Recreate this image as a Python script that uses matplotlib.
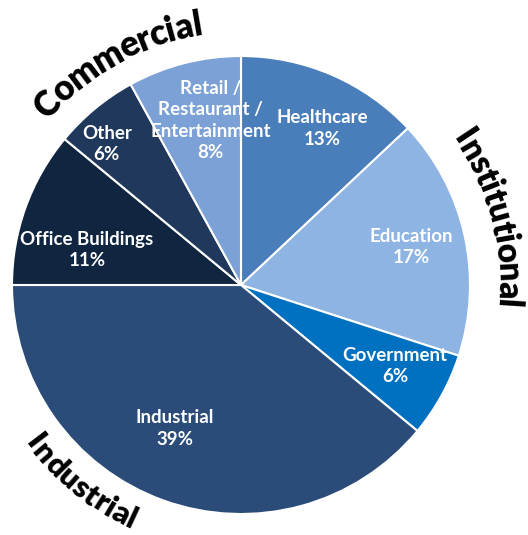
import numpy as np
import matplotlib
matplotlib.use("Agg")
import matplotlib.pyplot as plt
from matplotlib.font_manager import FontProperties

# slice data, clockwise from 12 o'clock
sectors = ["Healthcare", "Education", "Government", "Industrial",
           "Office Buildings", "Other", "Retail /\nRestaurant /\nEntertainment"]
shares = [13, 17, 6, 39, 11, 6, 8]
colors = ["#4a7ebb", "#8db4e2", "#0070c0", "#2b4c78",
          "#10253f", "#1f385c", "#7ca1d6"]
# label placement: fraction of radius and angle nudge (deg)
label_radius = [0.77, 0.76, 0.76, 0.69, 0.69, 0.85, 0.73]
label_nudge = [-4, 0, 1, -5, 7, 4, -4]

# group titles written around the pie
groups = ["Commercial", "Institutional", "Industrial"]
group_angle = [119, 15, 231]      # centre angle of each title (deg)

W, H = 528, 535
cx, cy, R = 241, H - 285, 229

fig = plt.figure(figsize=(W / 100, H / 100), dpi=100)
ax = fig.add_axes([0, 0, 1, 1])
wedges, _ = ax.pie(shares, colors=colors, startangle=90, counterclock=False,
                   center=(cx, cy), radius=R,
                   wedgeprops=dict(edgecolor="white", linewidth=1.5))
ax.set_xlim(0, W)
ax.set_ylim(0, H)
ax.set_aspect("equal")
ax.axis("off")

lab_font = dict(family="Lato", weight="bold", size=13.5, color="white")
for w, name, pct, rf, nd in zip(wedges, sectors, shares, label_radius, label_nudge):
    mid = np.deg2rad((w.theta1 + w.theta2) / 2 + nd)
    x = cx + rf * R * np.cos(mid)
    y = cy + rf * R * np.sin(mid)
    ax.text(x, y, f"{name}\n{pct}%", ha="center", va="center",
            linespacing=1.3, **lab_font)

# curved titles
renderer = fig.canvas.get_renderer()


def arc_text(s, ang, r, size, clockwise=True):
    fp = FontProperties(family="Lato", weight="heavy", size=size)

    def text_w(t):
        return renderer.get_text_width_height_descent(t, fp, ismath=False)[0]

    total = text_w(s)
    sign = -1 if clockwise else 1
    start = np.deg2rad(ang) - sign * (total / 2) / r
    for i, ch in enumerate(s):
        off = text_w(s[:i]) + text_w(ch) / 2
        th = start + sign * off / r
        rot = np.rad2deg(th) - 90 if clockwise else np.rad2deg(th) + 90
        ax.text(cx + r * np.cos(th), cy + r * np.sin(th), ch,
                fontproperties=fp, ha="center", va="center",
                rotation=rot, rotation_mode="anchor", color="black")


arc_text(groups[0], group_angle[0], 264, 25, clockwise=True)
arc_text(groups[1], group_angle[1], 267, 24, clockwise=True)
arc_text(groups[2], group_angle[2], 259, 22.5, clockwise=False)

fig.savefig("out.png", dpi=100)
